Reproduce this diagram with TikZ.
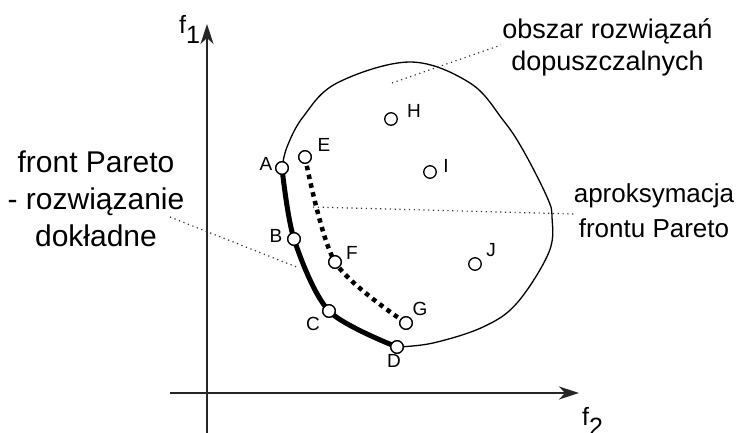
\documentclass[tikz,border=0pt]{standalone}
\usepackage{fontspec}
\setmainfont{Liberation Sans}
\usetikzlibrary{arrows.meta}
\begin{document}
\begin{tikzpicture}[x=1pt,y=-1pt,
  axis/.style={line width=1.4pt,draw=black!85,-{Stealth[length=20pt,width=13pt,inset=6pt]}},
  pt/.style={circle,draw=black,fill=white,line width=1.3pt,minimum size=12.5pt,inner sep=0pt},
  lbl/.style={font=\fontsize{19}{22}\selectfont,inner sep=0pt},
  big/.style={align=center,inner sep=0pt,anchor=base},
  lead/.style={line width=1.2pt,dash pattern=on 1.2pt off 3.6pt,draw=black!80},
  frontline/.style={line width=5pt},
  approx/.style={line width=4.5pt,dash pattern=on 4.5pt off 4.5pt},
  bound/.style={line width=1.3pt}]
\useasboundingbox (0,0) rectangle (741,432);
% axes
\coordinate (xs) at (170,393);
\coordinate (xe) at (579,393);
\coordinate (ys) at (207,440);
\coordinate (ye) at (207,24);
\draw[axis] (xs) -- (xe);
\draw[axis] (ys) -- (ye);
\node[inner sep=0pt,anchor=base west,font=\fontsize{25}{30}\selectfont] (f1) at (179,33) {f\raisebox{-0.4em}{1}};
\node[inner sep=0pt,anchor=base west,font=\fontsize{25}{30}\selectfont] (f2) at (582,425) {f\raisebox{-0.4em}{2}};
% points
\node[pt] (A) at (282,168) {};
\node[pt] (B) at (294,239) {};
\node[pt] (C) at (329,311) {};
\node[pt] (D) at (397,347) {};
\node[pt] (E) at (305,157) {};
\node[pt] (F) at (335,262) {};
\node[pt] (G) at (406,323) {};
\node[pt] (H) at (391,119) {};
\node[pt] (I) at (430,172) {};
\node[pt] (J) at (475,264) {};
% boundary
\draw[bound] plot[smooth,tension=0.6] coordinates {(A.center) (287,147) (303,117) (337,83) (410,62) (470,83) (503,120) (523,150) (547,197) (552,217) (549,252) (517,303) (483,327) (433,343) (D.center)};
% fronts
\draw[frontline] plot[smooth] coordinates {(A.center) (B.center) (C.center) (D.center)};
\draw[approx] plot[smooth] coordinates {(E.center) (F.center) (G.center)};
% redraw points on top
\foreach \x/\y in {282/168,294/239,329/311,397/347,305/157,335/262,406/323}
  \node[pt] at (\x,\y) {};
% point labels
\node[lbl] (lA) at (266,164) {A};
\node[lbl] (lB) at (276,236) {B};
\node[lbl] (lC) at (313,324) {C};
\node[lbl] (lD) at (394,361) {D};
\node[lbl] (lE) at (324,145) {E};
\node[lbl] (lF) at (352,253) {F};
\node[lbl] (lG) at (420,309) {G};
\node[lbl] (lH) at (414,111) {H};
\node[lbl] (lI) at (446,166) {I};
\node[lbl] (lJ) at (491,250) {J};
% texts
\node[big,font=\fontsize{27}{32}\selectfont] (obs) at (607.5,70) {obszar rozwiązań\\dopuszczalnych};
\node[big,font=\fontsize{30}{37}\selectfont] (fp) at (96,246) {front Pareto\\- rozwiązanie\\dokładne};
\node[big,font=\fontsize{26}{35}\selectfont] (apr) at (654,237) {aproksymacja\\frontu Pareto};
% leaders
\coordinate (o1) at (392,83);
\coordinate (o2) at (501,45);
\coordinate (a1) at (313,207);
\coordinate (a2) at (574,214);
\coordinate (p1) at (170,217);
\coordinate (p2) at (299,268);
\draw[lead] (o1) -- (o2);
\draw[lead] (a1) -- (a2);
\draw[lead] (p1) -- (p2);
\end{tikzpicture}
\end{document}
